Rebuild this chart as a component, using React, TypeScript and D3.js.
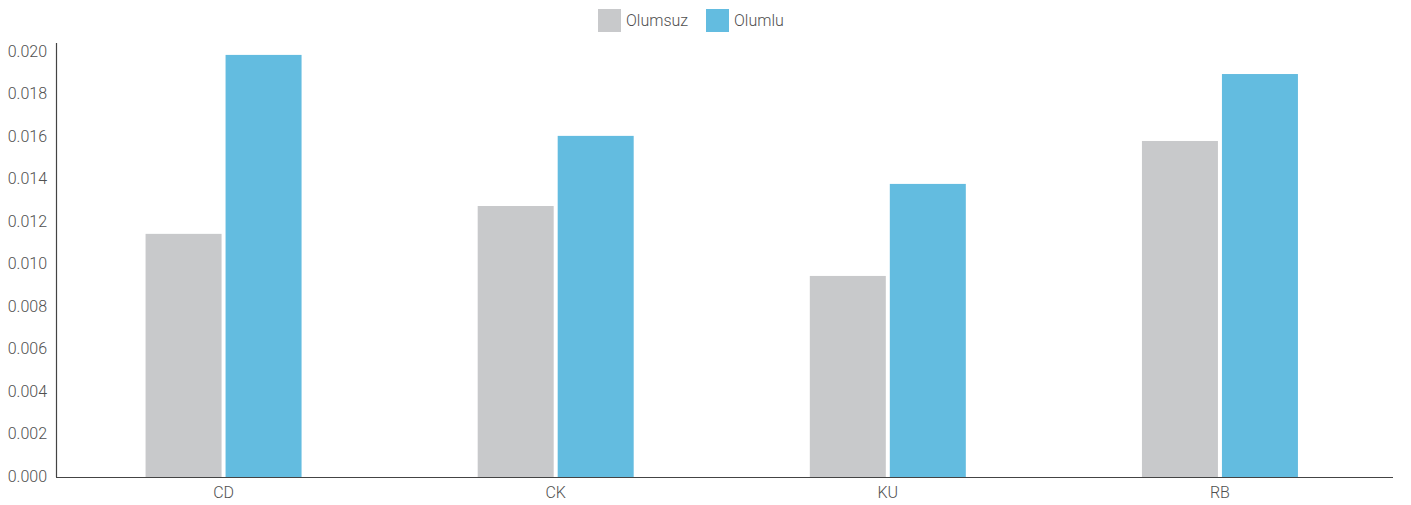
import React, { useEffect, useRef } from "react";
import * as d3 from "d3";

const categories = ["CD", "CK", "KU", "RB"];
const seriesNames = ["Olumsuz", "Olumlu"];
const olumsuz = [0.01144, 0.01275, 0.00946, 0.01581];
const olumlu = [0.01986, 0.01605, 0.01379, 0.01896];
const yTicks = [0, 0.002, 0.004, 0.006, 0.008, 0.01, 0.012, 0.014, 0.016, 0.018, 0.02];

const colors = ["#c8c9cb", "#63bce0"];

export default function App() {
  const svgRef = useRef<SVGSVGElement>(null);

  useEffect(() => {
    document.body.style.margin = "0";
    const width = 1411;
    const height = 505;
    const svg = d3.select(svgRef.current);
    svg.selectAll("*").remove();
    svg
      .attr("width", width)
      .attr("height", height)
      .attr("viewBox", [0, 0, width, height])
      .style("font-family", "Roboto, sans-serif")
      .style("font-weight", 300);

    const left = 56;
    const right = 1393;
    const bottom = 477;

    const x0 = d3.scaleBand().domain(categories).range([57.5, 1386]);
    const x1 = d3
      .scaleBand()
      .domain(seriesNames)
      .range([0, 156])
      .paddingInner(0.05);
    const y = d3.scaleLinear().domain([0, 0.02042]).range([bottom, 43]);

    const rows = categories.map((c, i) => ({
      cat: c,
      values: [olumsuz[i], olumlu[i]],
    }));

    // bars
    const groups = svg
      .append("g")
      .selectAll("g")
      .data(rows)
      .join("g")
      .attr(
        "transform",
        (d) => `translate(${x0(d.cat)! + x0.bandwidth() / 2 - 78},0)`,
      );

    groups
      .selectAll("rect")
      .data((d) => d.values.map((v, j) => ({ key: seriesNames[j], v, j })))
      .join("rect")
      .attr("x", (d) => x1(d.key)!)
      .attr("width", x1.bandwidth())
      .attr("y", (d) => y(d.v))
      .attr("height", (d) => bottom - y(d.v))
      .attr("fill", (d) => colors[d.j]);

    // y axis
    svg
      .append("line")
      .attr("x1", left + 0.5)
      .attr("x2", left + 0.5)
      .attr("y1", y.range()[1])
      .attr("y2", bottom)
      .attr("stroke", "#444")
      .attr("stroke-width", 1.2);

    svg
      .append("g")
      .selectAll("text")
      .data(yTicks)
      .join("text")
      .attr("x", 47)
      .attr("y", (d) => y(d))
      .attr("dy", "0.3em")
      .attr("text-anchor", "end")
      .attr("font-size", 16)
      .attr("fill", "#505050")
      .text((d) => d3.format(".3f")(d));

    // x axis
    svg
      .append("line")
      .attr("x1", left)
      .attr("x2", right)
      .attr("y1", bottom + 0.5)
      .attr("y2", bottom + 0.5)
      .attr("stroke", "#444")
      .attr("stroke-width", 1.2);

    svg
      .append("g")
      .selectAll("text")
      .data(categories)
      .join("text")
      .attr("x", (d) => x0(d)! + x0.bandwidth() / 2)
      .attr("y", 493)
      .attr("dy", "0.32em")
      .attr("text-anchor", "middle")
      .attr("font-size", 16)
      .attr("fill", "#505050")
      .text((d) => d);

    // legend
    const legendX = [598, 706];
    const legend = svg
      .append("g")
      .selectAll("g")
      .data(seriesNames)
      .join("g")
      .attr("transform", (d, i) => `translate(${legendX[i]},9)`);

    legend
      .append("rect")
      .attr("width", 23)
      .attr("height", 23)
      .attr("fill", (d, i) => colors[i]);

    legend
      .append("text")
      .attr("x", 28)
      .attr("y", 12)
      .attr("dy", "0.32em")
      .attr("font-size", 16)
      .attr("fill", "#505050")
      .text((d) => d);
  }, []);

  return <svg ref={svgRef} style={{ display: "block" }}></svg>;
}
